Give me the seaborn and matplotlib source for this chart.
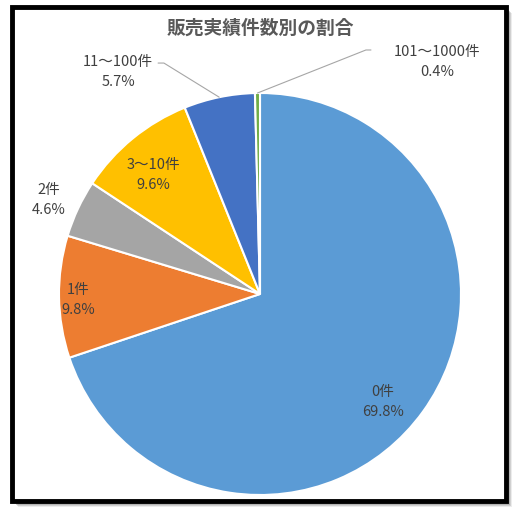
import numpy as np
import seaborn as sns
import matplotlib
matplotlib.use("Agg")
from matplotlib import pyplot as plt
from matplotlib.patches import Rectangle

# data
categories = ["0件", "1件", "2件", "3〜10件", "11〜100件", "101〜1000件"]
shares = [69.8, 9.8, 4.6, 9.6, 5.7, 0.4]
pct_labels = ["69.8%", "9.8%", "4.6%", "9.6%", "5.7%", "0.4%"]
colors = ["#5B9BD5", "#ED7D31", "#A5A5A5", "#FFC000", "#4472C4", "#70AD47"]
# label centres, in pie radius units
label_pos = [(0.612, -0.537), (-0.905, -0.03), (-1.05, 0.468),
             (-0.532, 0.592), (-0.706, 1.104), (0.881, 1.154)]
# leader line knee points for outside labels
leaders = {4: [(-0.478, 1.149), (-0.507, 1.149)],
           5: [(0.527, 1.214), (0.552, 1.214)]}

sns.set_theme(style="white")
plt.rcParams['font.family'] = ['Noto Sans CJK JP', 'DejaVu Sans']

W, H = 520, 514
fig = plt.figure(figsize=(W / 100, H / 100), dpi=100)
fig.patch.set_facecolor("white")

def fbox(x0, y0, x1, y1):
    return (x0 / W, 1 - y1 / H), (x1 - x0) / W, (y1 - y0) / H

# soft shadow then black frame
for off, a in [(6, 0.15), (5, 0.25), (4, 0.35)]:
    xy, w, h = fbox(12 + off, 7 + off, 506 + off, 501 + off)
    fig.patches.append(Rectangle(xy, w, h, transform=fig.transFigure,
                                 facecolor="#808080", edgecolor="none", alpha=a, zorder=0))
xy, w, h = fbox(12, 7, 506, 501)
fig.patches.append(Rectangle(xy, w, h, transform=fig.transFigure,
                             facecolor="white", edgecolor="black", linewidth=3.5, zorder=1))

# pie axes: centre (260, 294), radius 201 px
cx, cy, r = 260, 294, 201
ax = fig.add_axes([(cx - r) / W, 1 - (cy + r) / H, 2 * r / W, 2 * r / H])
ax.set_zorder(2)
wedges, _ = ax.pie(shares, colors=sns.color_palette(colors), startangle=90,
                   counterclock=False,
                   wedgeprops=dict(edgecolor="white", linewidth=1.5))
ax.set_xlim(-1, 1)
ax.set_ylim(-1, 1)
ax.set_aspect("auto")
ax.axis("off")

txt = dict(fontsize=10.5, color="#404040", ha="center", va="center",
           linespacing=1.55, clip_on=False)

for cat, pct, (tx, ty) in zip(categories, pct_labels, label_pos):
    ax.text(tx, ty, f"{cat}\n{pct}", **txt)

for i, knees in leaders.items():
    wd = wedges[i]
    ang = np.deg2rad((wd.theta1 + wd.theta2) / 2)
    xs = [np.cos(ang)] + [k[0] for k in knees]
    ys = [np.sin(ang)] + [k[1] for k in knees]
    ax.plot(xs, ys, color="#A6A6A6", linewidth=0.8, clip_on=False)

fig.text(cx / W, 1 - 28 / H, "販売実績件数別の割合", fontsize=13.5,
         fontweight="bold", color="#595959", ha="center", va="center", zorder=3)

fig.savefig("out.png", dpi=100)
